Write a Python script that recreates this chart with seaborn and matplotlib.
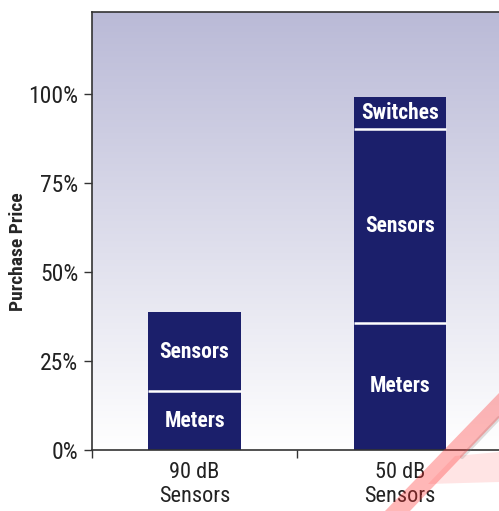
import numpy as np
import matplotlib
matplotlib.use("Agg")
import matplotlib.pyplot as plt
import matplotlib.font_manager as fm
import seaborn as sns
import pandas as pd
from matplotlib.patches import Polygon

categories = ["90 dB\nSensors", "50 dB\nSensors"]
meters = [16.5, 35.7]
sensors = [22.3, 54.5]
switches = [0.0, 9.0]
yticks = [0, 25, 50, 75, 100]
ytick_labels = ["0%", "25%", "50%", "75%", "100%"]
ylabel = "Purchase Price"

sns.set_theme(style="white")
available = {f.name for f in fm.fontManager.ttflist}
prefs = ["Roboto Condensed", "Archivo Narrow", "PT Sans Narrow", "Fira Sans Condensed",
         "IBM Plex Sans Condensed", "Open Sans Condensed", "Barlow Condensed", "Sofia Sans Condensed",
         "Liberation Sans Narrow", "Saira SemiCondensed"]
fam = next((p for p in prefs if p in available), "DejaVu Sans")
plt.rcParams['font.family'] = [fam, 'DejaVu Sans']

W, H = 499, 511
fig = plt.figure(figsize=(W / 100, H / 100), dpi=100)
left, bottom_px, top_px = 92, 450, 12
ax_w_px = 523 - left
ax = fig.add_axes([left / W, 1 - bottom_px / H, ax_w_px / W, (bottom_px - top_px) / H])

# gradient background
grad = np.linspace(0, 1, 256).reshape(-1, 1)
top_c = np.array([186, 186, 215]) / 255
bot_c = np.array([255, 255, 255]) / 255
img = top_c[None, None, :] * (1 - grad[:, :, None]) + bot_c[None, None, :] * grad[:, :, None]
ax.imshow(img, extent=[0, 1, 0, 1], transform=ax.transAxes, aspect="auto", zorder=0)

df = pd.DataFrame({"cat": categories, "Meters": meters, "Sensors": sensors, "Switches": switches})
navy = "#1B1F6B"
bottoms = np.zeros(len(categories))
layers = ["Meters", "Sensors", "Switches"]
for name in layers:
    vals = df[name].values
    n_before = len(ax.patches)
    sns.barplot(data=df, x="cat", y=name, order=categories, color=navy, saturation=1,
                bottom=bottoms, width=0.45, ax=ax, zorder=2, edgecolor="none", linewidth=0)
    new = ax.patches[n_before:]
    for p, v, b in zip(new, vals, bottoms):
        if v <= 0:
            continue
        cx = p.get_x() + p.get_width() / 2
        ax.text(cx, b + v / 2, name, ha="center", va="center", color="white",
                fontsize=15.5, fontweight="bold", zorder=4)
        if b > 0:
            ax.plot([p.get_x(), p.get_x() + p.get_width()], [b, b], color="white",
                    lw=1.8, zorder=3, solid_capstyle="butt")
    bottoms = bottoms + vals

ax.set_xlim(-0.5, 1.6)
ax.set_ylim(0, 123)
ax.set_yticks(yticks)
ax.set_yticklabels(ytick_labels)
ax.set_xlabel("")
ax.set_ylabel(ylabel, fontsize=14, fontweight="bold")
ax.yaxis.set_label_coords((18 - left) / ax_w_px, (bottom_px - 252) / (bottom_px - top_px))
ax.yaxis.label.set_va("center")
ax.tick_params(axis="y", which="major", direction="out", length=6, width=1, color="#333333",
               labelsize=17, labelcolor="#222222", pad=4, left=True)
ax.tick_params(axis="x", which="major", length=0, labelsize=16, labelcolor="#222222", pad=9)
for lbl in ax.get_xticklabels():
    lbl.set_linespacing(1.15)
ax.set_xticks([-0.5, 0.5], minor=True)
ax.tick_params(axis="x", which="minor", direction="out", length=6, width=1, color="#333333", bottom=True)
for s in ["left", "top", "bottom"]:
    ax.spines[s].set_visible(True)
    ax.spines[s].set_color("#333333")
    ax.spines[s].set_linewidth(1.2)
ax.spines["right"].set_visible(False)
ax.grid(False)

# decorative red wedge (bottom-right corner)
def fp(x, y):
    return (x / W, 1 - y / H)
poly = Polygon([fp(385, 511), fp(499, 393), fp(499, 418), fp(410, 511)],
               closed=True, transform=fig.transFigure, facecolor=(1, 0.2, 0.2, 0.35),
               edgecolor="none", zorder=10)
fig.patches.append(poly)
poly2 = Polygon([fp(455, 456), fp(499, 452), fp(499, 482), fp(428, 484)], closed=True,
                transform=fig.transFigure, facecolor=(1, 0.3, 0.3, 0.15), edgecolor="none", zorder=10)
fig.patches.append(poly2)
fig.lines.append(plt.Line2D([462 / W, 1.0], [1 - 457 / H, 1 - 418 / H], transform=fig.transFigure,
                            color=(0.5, 0.5, 0.5, 0.25), lw=3, zorder=10))

fig.savefig("out.png", dpi=100)
